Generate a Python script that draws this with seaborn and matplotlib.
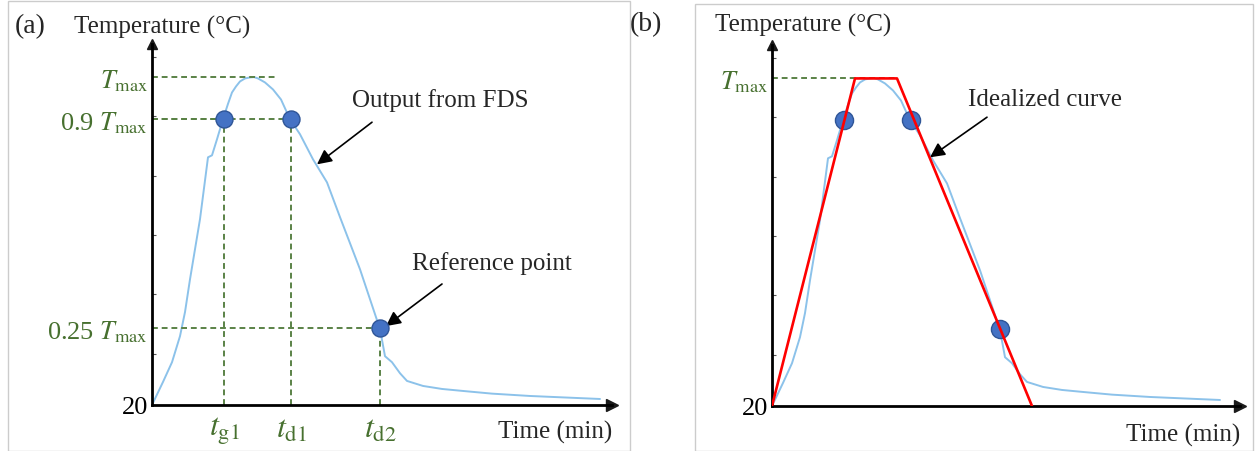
import numpy as np
import pandas as pd
import seaborn as sns
import matplotlib.pyplot as plt
from matplotlib.patches import Rectangle

# FDS temperature-time curve (min, degC)
fds_time = [0, 0.55, 1.0, 1.4, 1.65, 1.9, 2.4, 2.8, 3.0, 3.25, 3.55, 3.8, 4.0, 4.2, 4.4,
            4.65, 4.9, 5.1, 5.3, 5.65, 6.05, 6.45, 6.9, 7.4, 8.05, 8.75, 9.4, 10.4, 11.4,
            11.65, 12.0, 12.4, 12.75, 13.55, 14.5, 15.55, 17.0, 18.9, 22.4]
fds_temp = [20, 89, 148, 226, 298, 396, 576, 761, 767, 815, 875, 921, 955, 973, 988,
            997, 1000, 1001, 997, 985, 964, 934, 875, 830, 755, 686, 582, 426, 247,
            166, 148, 115, 92, 77, 68, 62, 54, 47, 38]

# characteristic points (tg1, td1, td2)
key_time = [3.6, 6.95, 11.4]
key_temp = [875, 875, 250]
key_names = [r'$t_{\mathrm{g1}}$', r'$t_{\mathrm{d1}}$', r'$t_{\mathrm{d2}}$']

# idealized trapezoidal curve
ideal_time = [0, 4.15, 6.25, 13.0]
ideal_temp = [20, 1000, 1000, 20]

t_max = 1000
tmax_guide_end = 6.3
levels_a = [20, 250, 875, 1000]
level_labels_a = ['20', r'0.25 $T_{\mathrm{max}}$', r'0.9 $T_{\mathrm{max}}$', r'$T_{\mathrm{max}}$']
levels_b = [20, 1000]
level_labels_b = ['20', r'$T_{\mathrm{max}}$']
minor_ticks = [172, 352, 528, 704, 884, 1060]

sns.set_theme(style='white')
plt.rcParams['font.family'] = ['Liberation Serif', 'DejaVu Serif']
plt.rcParams['mathtext.fontset'] = 'stix'
plt.rcParams['font.size'] = 18

W, H = 1255, 452
fig = plt.figure(figsize=(W / 100, H / 100), dpi=100)

blue = '#8cc2ea'
green = '#47702f'
dash_green = '#5a8246'
dot_face = '#4472c4'
dot_edge = '#2f5597'
dash = (0, (3, 2))
arrow_kw = dict(arrowstyle='-|>', color='black', lw=1.2, mutation_scale=22,
                shrinkA=0, shrinkB=0)


def px(x0, y0, w, h):
    return [x0 / W, 1 - y0 / H, w / W, h / H]


def setup(ax, xmax, levels, labels):
    ax.set_xlim(0, xmax)
    ax.set_ylim(20, 1100)
    for s in ['top', 'right']:
        ax.spines[s].set_visible(False)
    for s in ['left', 'bottom']:
        ax.spines[s].set_linewidth(2)
        ax.spines[s].set_color('black')
    ax.plot(1, 0, '>k', ms=8, transform=ax.transAxes, clip_on=False)
    ax.plot(0, 1, '^k', ms=7, transform=ax.transAxes, clip_on=False)
    ax.set_yticks(levels)
    ax.set_yticklabels(labels)
    ax.set_yticks(minor_ticks, minor=True)
    ax.tick_params(axis='y', which='major', length=0, pad=3, labelsize=19)
    ax.tick_params(axis='y', which='minor', left=True, direction='in', length=3,
                   width=0.8, color='#555555')
    for lab in ax.get_yticklabels():
        lab.set_color('black' if lab.get_text() == '20' else green)
    ax.set_xlabel('')
    ax.set_ylabel('')
    ax.set_facecolor('none')


# ---------- (a) ----------
ax1 = fig.add_axes(px(152, 406, 460, 361))
sns.lineplot(x=fds_time, y=fds_temp, ax=ax1, color=blue, lw=1.4, estimator=None, sort=False)
ax1.plot([0, tmax_guide_end], [t_max, t_max], color=dash_green, lw=1.4, ls=dash)
for t, T in zip(key_time, key_temp):
    ax1.plot([0, t], [T, T], color=dash_green, lw=1.4, ls=dash)
    ax1.plot([t, t], [20, T], color=dash_green, lw=1.4, ls=dash)
sns.scatterplot(x=key_time, y=key_temp, ax=ax1, s=150, color=dot_face,
                edgecolor=dot_edge, linewidth=1, zorder=5)
setup(ax1, 23.0, levels_a, level_labels_a)
ax1.set_xticks(key_time)
ax1.set_xticklabels(key_names)
ax1.tick_params(axis='x', length=0, pad=7, labelsize=23, labelcolor=green)

ax1.text(10.0, 934, 'Output from FDS', fontsize=18, ha='left', va='center')
ax1.annotate('', xy=(8.25, 740), xytext=(11.0, 866), arrowprops=arrow_kw)
ax1.text(13.0, 447, 'Reference point', fontsize=18, ha='left', va='center')
ax1.annotate('', xy=(11.7, 256), xytext=(14.5, 382), arrowprops=arrow_kw)

# ---------- (b) ----------
ax2 = fig.add_axes(px(772, 407, 468, 361))
sns.lineplot(x=fds_time, y=fds_temp, ax=ax2, color=blue, lw=1.4, estimator=None, sort=False)
ax2.plot([0, ideal_time[2]], [t_max, t_max], color=dash_green, lw=1.4, ls=dash)
sns.lineplot(x=ideal_time, y=ideal_temp, ax=ax2, color='#ff0000', lw=1.9,
             estimator=None, sort=False, zorder=4)
sns.scatterplot(x=key_time, y=key_temp, ax=ax2, s=170, color=dot_face,
                edgecolor=dot_edge, linewidth=1, zorder=3)
setup(ax2, 23.4, levels_b, level_labels_b)
ax2.set_xticks([])
ax2.text(9.8, 937, 'Idealized curve', fontsize=18, ha='left', va='center')
ax2.annotate('', xy=(7.9, 764), xytext=(10.75, 884), arrowprops=arrow_kw)

# ---------- figure text and frames ----------
fig.text(15 / W, 1 - 27 / H, '(a)', fontsize=20, va='center', ha='left')
fig.text(74 / W, 1 - 27 / H, 'Temperature (°C)', fontsize=18, va='center', ha='left')
fig.text(612 / W, 1 - 432 / H, 'Time (min)', fontsize=18, va='center', ha='right')
fig.text(630 / W, 1 - 25 / H, '(b)', fontsize=20, va='center', ha='left')
fig.text(715 / W, 1 - 25 / H, 'Temperature (°C)', fontsize=18, va='center', ha='left')
fig.text(1240 / W, 1 - 435 / H, 'Time (min)', fontsize=18, va='center', ha='right')

fig.patches.append(Rectangle((8 / W, 0), 622 / W, 1 - 2 / H, transform=fig.transFigure,
                             fill=False, edgecolor='#cccccc', lw=1))
fig.patches.append(Rectangle((695 / W, 0), 558 / W, 1 - 5 / H, transform=fig.transFigure,
                             fill=False, edgecolor='#cccccc', lw=1))

fig.savefig('out.png', dpi=100)
